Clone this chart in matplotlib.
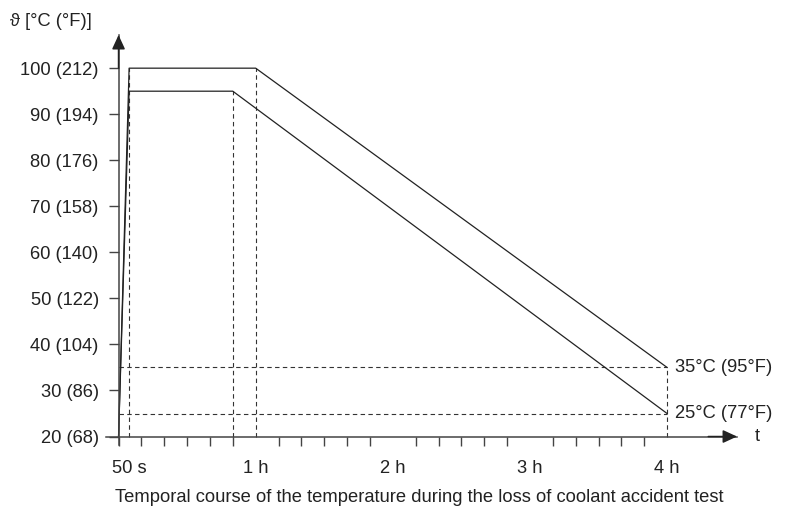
import matplotlib
matplotlib.use("Agg")
from matplotlib import pyplot as plt

plt.rcParams['font.family'] = ['Liberation Sans', 'DejaVu Sans']
plt.rcParams['font.size'] = 13.2

# time in hours (the 50 s point is drawn schematically, as in the original)
t_upper = [0, 0.077, 1, 4]
temp_upper = [20, 100, 100, 35]
t_lower = [0, 0.077, 0.833, 4]
temp_lower = [20, 95, 95, 25]

yticks = [20, 30, 40, 50, 60, 70, 80, 90, 100]
ylabels = ['20 (68)', '30 (86)', '40 (104)', '50 (122)', '60 (140)',
           '70 (158)', '80 (176)', '90 (194)', '100 (212)']
xticks = [0.077, 1, 2, 3, 4]
xlabels = ['50 s', '1 h', '2 h', '3 h', '4 h']
minor_ticks = [i / 6 for i in range(25)]

ink = '#222222'
axis_col = '#444444'

fig = plt.figure(figsize=(7.92, 5.09), dpi=100)
ax = fig.add_axes([0.1341, 0.1261, 0.7965, 0.8051])
ax.set_xlim(-0.09, 4.51)
ax.set_ylim(18.2, 107.2)

for s in ['top', 'right']:
    ax.spines[s].set_visible(False)
ax.spines['left'].set_position(('data', 0))
ax.spines['bottom'].set_position(('data', 20))
for s in ['left', 'bottom']:
    ax.spines[s].set_color(axis_col)
    ax.spines[s].set_linewidth(1.1)

ax.set_yticks(yticks)
ax.set_yticklabels(ylabels)
ax.tick_params(axis='y', direction='out', length=7.2, width=1, pad=7,
               color=axis_col, labelcolor=ink)
ax.set_xticks(xticks)
ax.set_xticklabels(xlabels)
ax.set_xticks(minor_ticks, minor=True)
ax.tick_params(axis='x', which='major', length=0, pad=17, labelcolor=ink)
ax.tick_params(axis='x', which='minor', direction='out', length=6.5,
               width=1, color=axis_col)

# axis arrows
ax.annotate('', xy=(4.51, 20), xytext=(4.3, 20), annotation_clip=False,
            arrowprops=dict(arrowstyle='-|>,head_length=0.65,head_width=0.3',
                            color=ink, lw=1.1, shrinkA=0, shrinkB=0))
ax.annotate('', xy=(0, 107.2), xytext=(0, 100), annotation_clip=False,
            arrowprops=dict(arrowstyle='-|>,head_length=0.65,head_width=0.3',
                            color=ink, lw=1.1, shrinkA=0, shrinkB=0))

# dashed guide lines
dash = dict(color='#333333', lw=0.8, linestyle=(0, (4, 3)))
ax.plot([t_upper[1], t_upper[1]], [20, temp_upper[1]], **dash)
ax.plot([t_lower[2], t_lower[2]], [20, temp_lower[2]], **dash)
ax.plot([t_upper[2], t_upper[2]], [20, temp_upper[2]], **dash)
ax.plot([4, 4], [20, temp_upper[3]], **dash)
ax.plot([0, 4], [temp_upper[3], temp_upper[3]], **dash)
ax.plot([0, 4], [temp_lower[3], temp_lower[3]], **dash)

# temperature curves
ax.plot(t_upper, temp_upper, color=ink, lw=0.9)
ax.plot(t_lower, temp_lower, color=ink, lw=0.9)

ax.text(4.058, 35, '35°C (95°F)', va='center', ha='left', color=ink)
ax.text(4.058, 25, '25°C (77°F)', va='center', ha='left', color=ink)
ax.text(4.66, 20, 't', va='center', ha='center', color=ink)

fig.text(10 / 792, 1 - 22 / 509, 'ϑ [°C (°F)]', va='center', ha='left', color=ink)
fig.text(419 / 792, 1 - 498 / 509,
         'Temporal course of the temperature during the loss of coolant accident test',
         va='center', ha='center', color=ink)

fig.savefig('out.png', dpi=100)
